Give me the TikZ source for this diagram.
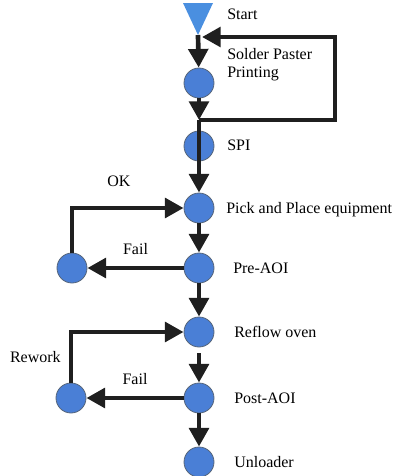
\documentclass[tikz,border=0pt]{standalone}
\usepackage{fontspec}
\setmainfont{Liberation Serif}
\usetikzlibrary{arrows.meta}
\definecolor{stationblue}{HTML}{4A7FD6}
\definecolor{rimgray}{HTML}{56657A}
\definecolor{startblue}{HTML}{4A8FE0}
\tikzstyle{station} = [circle, minimum size=22.5pt, inner sep=0pt, draw=rimgray, line width=0.6pt, fill=stationblue]
\tikzstyle{caption} = [anchor=base west, inner sep=0pt, align=left, font=\fontsize{12}{13.5}\selectfont]
\tikzstyle{tag} = [inner sep=0pt, font=\fontsize{12}{13.5}\selectfont]
\tikzstyle{flow} = [line width=3.5pt, draw=black!88, -{Triangle[length=14pt,width=14.5pt]}]

\begin{document}
\begin{tikzpicture}[x=0.75pt, y=-0.75pt]
\useasboundingbox (0,0) rectangle (398,476);

% Start marker
\fill[startblue] (183,3) -- (213,3) -- (198,35) -- cycle;
\coordinate (start) at (198,35);

% Nodes for Flowchart
\node (solder) [station] at (199,83) {};
\node (spi) [station] at (199,146) {};
\node (pnp) [station] at (199,208) {};
\node (preaoi) [station] at (199,268) {};
\node (failA) [station] at (72,268) {};
\node (reflow) [station] at (199,332) {};
\node (postaoi) [station] at (199,398) {};
\node (failB) [station] at (71,398) {};
\node (unload) [station] at (199,462) {};

% Captions for Flowchart
\node (startTxt) [caption] at (227,19) {Start};
\node (solderTxt) [caption] at (227,77) {Solder Paster\\Printing};
\node (spiTxt) [caption] at (227,150) {SPI};
\node (pnpTxt) [caption] at (226,213) {Pick and Place equipment};
\node (preTxt) [caption] at (233,273) {Pre-AOI};
\node (reflowTxt) [caption] at (234,337) {Reflow oven};
\node (postTxt) [caption] at (234,403) {Post-AOI};
\node (unloadTxt) [caption] at (234,467) {Unloader};

% Arrows for Flowchart
\coordinate (loopjoint) at (199,120);
\coordinate (loopback) at (202,37);
\draw [flow] (start) -- (solder);
\draw [flow] (solder) -- (loopjoint);
\draw [flow] (loopjoint) -- ++(136,0) |- (loopback);
\draw [flow] (loopjoint) -- (pnp);
\draw [flow] (pnp) -- (preaoi);
\draw [flow] (preaoi) -- node[tag, above=8pt] (failTxtA) {Fail} (failA);
\draw [flow] (failA) |- node[tag, pos=0.71, above=14pt] (okTxt) {OK} (pnp);
\draw [flow] (preaoi) -- (reflow);
\draw [flow, shorten <=4.5pt] (reflow) -- (postaoi);
\draw [flow] (postaoi) -- node[tag, above=8pt] (failTxtB) {Fail} (failB);
\draw [flow] (failB) |- node[tag, pos=0.25, left=6pt] (reworkTxt) {Rework} (reflow);
\draw [flow] (postaoi) -- (unload);

\end{tikzpicture}
\end{document}
